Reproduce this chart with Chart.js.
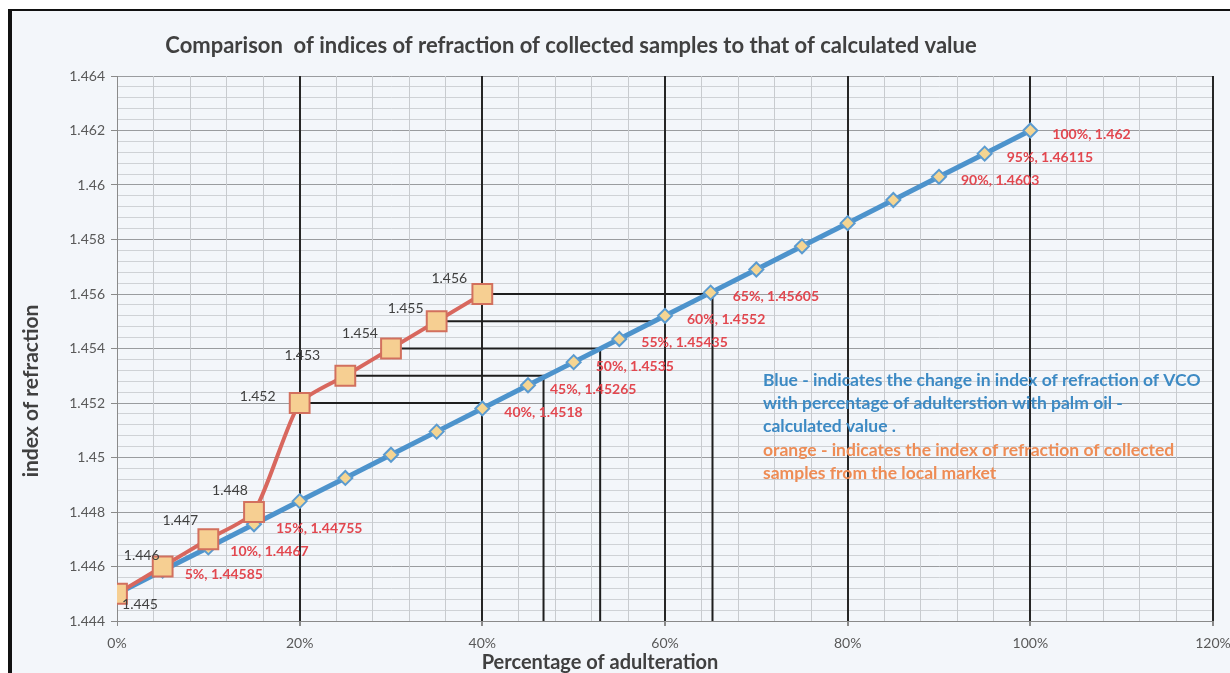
<!DOCTYPE html>
<html>
<head>
<meta charset="utf-8">
<script src="https://cdn.jsdelivr.net/npm/chart.js@4/dist/chart.umd.min.js"></script>
<style>
  html, body { margin: 0; padding: 0; background: #fff; }
  canvas { display: block; }
</style>
</head>
<body>
<canvas id="chart" width="1230" height="673"></canvas>
<script>
// calculated values (blue)
const pct = [0, 5, 10, 15, 20, 25, 30, 35, 40, 45, 50, 55, 60, 65, 70, 75, 80, 85, 90, 95, 100];
const calculated = [1.445, 1.44585, 1.4467, 1.44755, 1.4484, 1.44925, 1.4501, 1.45095, 1.4518, 1.45265,
  1.4535, 1.45435, 1.4552, 1.45605, 1.4569, 1.45775, 1.4586, 1.45945, 1.4603, 1.46115, 1.462];
// collected samples (orange)
const collectedPct = [0, 5, 10, 15, 20, 25, 30, 35, 40];
const collected = [1.445, 1.446, 1.447, 1.448, 1.452, 1.453, 1.454, 1.455, 1.456];
// which blue points carry a label
const labelledIdx = [1, 2, 3, 8, 9, 10, 11, 12, 13, 18, 19, 20];
// hand drawn guide lines: level, start %, end %, drop to axis
const guideLevels = [1.452, 1.453, 1.454, 1.455, 1.456];
const guideStart = [20, 25, 30, 35, 40];
const guideEnd = [40, 46.7, 52.9, 59, 65.2];
const guideDrop = [false, true, true, false, true];

const Y_MIN = 1.444;
const FONT = "Lato, 'Open Sans', sans-serif";

const isMajorY = (v) => Math.round(v * 10000) % 20 === 0;
const isMajorX = (v) => Math.round(v) % 20 === 0;

// text offsets for orange labels (relative to point)
const orangeOffsets = [[23, 11], [-21, -11], [-28, -19], [-24, -22], [-42, -7], [-43, -20], [-31, -15], [-31, -13], [-33, -16]];

const guideSets = guideLevels.map((lvl, i) => {
  const pts = [{ x: guideStart[i], y: lvl }, { x: guideEnd[i], y: lvl }];
  if (guideDrop[i]) pts.push({ x: guideEnd[i], y: Y_MIN });
  return {
    data: pts,
    borderColor: "#1e1e1e",
    borderWidth: 2,
    pointRadius: 0,
    tension: 0,
  };
});

const background = {
  id: "background",
  beforeDraw(chart) {
    const ctx = chart.ctx;
    ctx.save();
    ctx.fillStyle = "#ffffff";
    ctx.fillRect(0, 0, chart.width, chart.height);
    ctx.fillStyle = "#f3f6fa";
    ctx.fillRect(10, 10, chart.width - 10, chart.height - 10);
    ctx.restore();
  },
};

const texts = {
  id: "texts",
  afterDatasetsDraw(chart) {
    const ctx = chart.ctx;
    const orange = chart.getDatasetMeta(0).data;
    const blue = chart.getDatasetMeta(1).data;
    ctx.save();
    ctx.textBaseline = "middle";

    ctx.font = "14px " + FONT;
    ctx.fillStyle = "#404040";
    ctx.textAlign = "center";
    collected.forEach((v, i) => {
      const p = orange[i];
      ctx.fillText(String(v), p.x + orangeOffsets[i][0], p.y + orangeOffsets[i][1]);
    });

    ctx.font = "bold 14px " + FONT;
    ctx.fillStyle = "#e2474f";
    ctx.textAlign = "left";
    labelledIdx.forEach((i) => {
      const p = blue[i];
      ctx.fillText(pct[i] + "%, " + calculated[i], p.x + 22, p.y + 4);
    });

    // title
    ctx.fillStyle = "#404040";
    ctx.textAlign = "center";
    ctx.font = "bold 22px " + FONT;
    ctx.fillText("Comparison  of indices of refraction of collected samples to that of calculated value", 571, 46);

    // axis titles
    ctx.font = "bold 20px " + FONT;
    ctx.fillText("Percentage of adulteration", 600, 663);
    ctx.save();
    ctx.translate(31, 391);
    ctx.rotate(-Math.PI / 2);
    ctx.font = "bold 21px " + FONT;
    ctx.fillText("index of refraction", 0, 0);
    ctx.restore();

    // note
    ctx.textAlign = "left";
    ctx.font = "bold 17.5px " + FONT;
    ctx.fillStyle = "#3d8ac4";
    ctx.fillText("Blue - indicates the change in index of refraction of VCO", 763, 380);
    ctx.fillText("with percentage of adulterstion with palm oil -", 763, 403);
    ctx.fillText("calculated value .", 763, 426);
    ctx.fillStyle = "#ee8c55";
    ctx.fillText("orange - indicates the index of refraction of collected", 763, 450);
    ctx.fillText("samples from the local market", 763, 473);

    // frame
    ctx.fillStyle = "#111";
    ctx.fillRect(8, 9, 4, chart.height - 9);
    ctx.fillRect(8, 9, chart.width - 8, 2);
    ctx.restore();
  },
};

new Chart(document.getElementById("chart"), {
  type: "line",
  data: {
    datasets: [
      {
        data: collectedPct.map((x, i) => ({ x, y: collected[i] })),
        borderColor: "#d8675e",
        borderWidth: 4,
        tension: 0.2,
        pointStyle: "rect",
        pointRadius: 14,
        pointBackgroundColor: "#f6cf92",
        pointBorderColor: "#d2705e",
        pointBorderWidth: 2,
      },
      {
        data: pct.map((x, i) => ({ x, y: calculated[i] })),
        borderColor: "#4d93cc",
        borderWidth: 5,
        tension: 0,
        pointStyle: "rectRot",
        pointRadius: 7,
        pointBackgroundColor: "#f5d592",
        pointBorderColor: "#5b9bd0",
        pointBorderWidth: 2,
      },
      ...guideSets,
    ],
  },
  options: {
    responsive: false,
    animation: false,
    layout: { padding: { top: 76, right: 0, left: 0, bottom: 0 } },
    plugins: {
      legend: { display: false },
      tooltip: { enabled: false },
      title: { display: false },
    },
    scales: {
      x: {
        type: "linear",
        min: 0,
        max: 120,
        afterFit: (s) => {
          s.height = 52;
          s.paddingLeft = 0;
          s.paddingRight = 17;
        },
        ticks: {
          stepSize: 4,
          autoSkip: false,
          maxRotation: 0,
          padding: 9,
          color: "#595959",
          font: { family: FONT, size: 14 },
          callback: (v) => (isMajorX(v) ? Math.round(v) + "%" : ""),
        },
        grid: {
          z: -1,
          color: (c) => (c.tick && isMajorX(c.tick.value) && c.tick.value > 0 ? "#262626" : "#c8cbcf"),
          lineWidth: (c) => (c.tick && isMajorX(c.tick.value) && c.tick.value > 0 ? 2 : 1),
          tickLength: 5,
          tickColor: (c) => (c.tick && isMajorX(c.tick.value) ? "#8a8a8a" : "rgba(0,0,0,0)"),
        },
        border: { color: "#8a8a8a", width: 1 },
      },
      y: {
        type: "linear",
        min: 1.444,
        max: 1.464,
        afterFit: (s) => { s.width = 117; },
        ticks: {
          stepSize: 0.0004,
          autoSkip: false,
          padding: 6,
          color: "#595959",
          font: { family: FONT, size: 14 },
          callback: (v) => (isMajorY(v) ? String(parseFloat(v.toFixed(3))) : ""),
        },
        grid: {
          z: -2,
          color: (c) => (c.tick && isMajorY(c.tick.value) ? "#9a9c9f" : "#cfd2d6"),
          lineWidth: 1,
          tickLength: 6,
          tickColor: (c) => (c.tick && isMajorY(c.tick.value) ? "#8a8a8a" : "rgba(0,0,0,0)"),
        },
        border: { color: "#8a8a8a", width: 1 },
      },
    },
  },
  plugins: [background, texts],
});
</script>
</body>
</html>
